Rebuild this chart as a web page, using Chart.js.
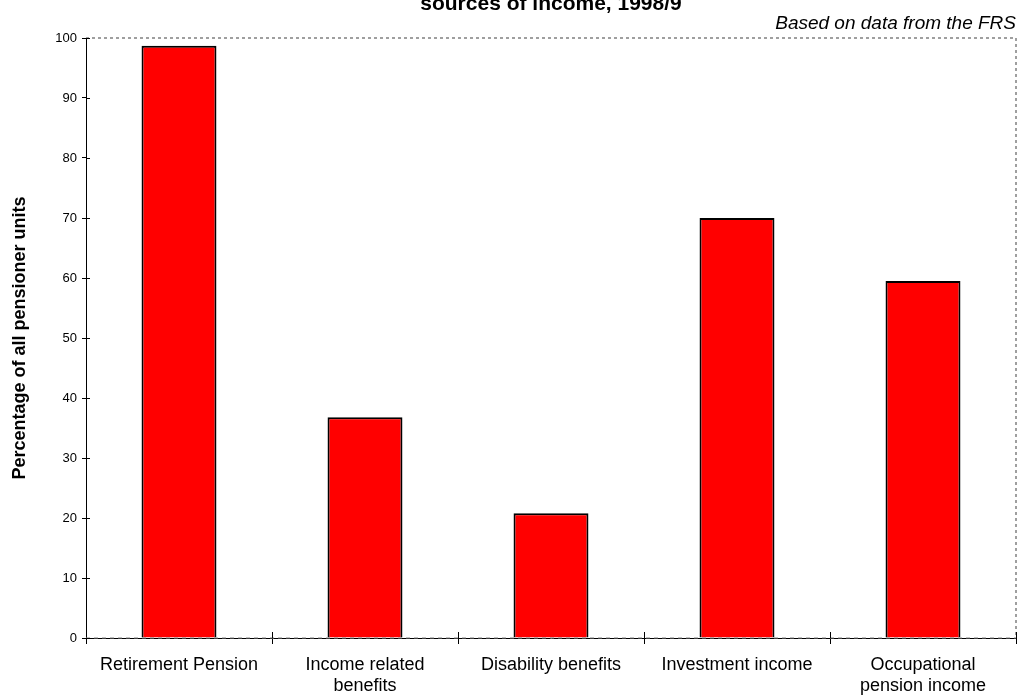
<!DOCTYPE html>
<html>
<head>
<meta charset="utf-8">
<script src="https://cdn.jsdelivr.net/npm/chart.js@4/dist/chart.umd.min.js"></script>
<style>
  body { margin: 0; background: #fff; }
  canvas { display: block; }
</style>
</head>
<body>
<canvas id="myChart" width="1019" height="697"></canvas>
<script>
const categories = [
    'Retirement Pension',
    ['Income related', 'benefits'],
    'Disability benefits',
    'Investment income',
    ['Occupational', 'pension income']
];
const percentages = [98.7, 36.8, 20.8, 70, 59.5];
const titleLine = 'sources of income, 1998/9';
const sourceNote = 'Based on data from the FRS';
const yTitle = 'Percentage of all pensioner units';

// title + note above the plot, the dotted frame round it, and tick marks that cross the axes
const frameAndHeader = {
    id: 'frameAndHeader',
    afterDraw(chart) {
        const {ctx, chartArea: a, scales} = chart;
        ctx.save();
        ctx.strokeStyle = '#808080';
        ctx.lineWidth = 1.5;
        ctx.setLineDash([3, 3]);
        ctx.beginPath();
        ctx.moveTo(a.left, a.top);
        ctx.lineTo(a.right, a.top);
        ctx.lineTo(a.right, a.bottom);
        ctx.stroke();
        ctx.setLineDash([4, 4]);
        ctx.lineWidth = 1;
        ctx.beginPath();
        ctx.moveTo(a.left, a.bottom);
        ctx.lineTo(a.right, a.bottom);
        ctx.stroke();
        ctx.setLineDash([]);

        // inner halves of the tick marks
        ctx.strokeStyle = '#000';
        ctx.lineWidth = 1;
        ctx.beginPath();
        scales.y.ticks.forEach((t, i) => {
            const y = Math.round(scales.y.getPixelForTick(i)) + 0.5;
            ctx.moveTo(a.left, y);
            ctx.lineTo(a.left + 4, y);
        });
        const n = scales.x.ticks.length;
        for (let i = 1; i <= n; i++) {
            const x = Math.round(a.left + (a.right - a.left) * i / n) + 0.5;
            ctx.moveTo(x, a.bottom - 6);
            ctx.lineTo(x, a.bottom);
        }
        ctx.stroke();

        ctx.fillStyle = '#000';
        ctx.textAlign = 'center';
        ctx.textBaseline = 'alphabetic';
        ctx.font = 'bold 21px "Liberation Sans", Arial, sans-serif';
        ctx.fillText(titleLine, (a.left + a.right) / 2, 9.5);
        ctx.textAlign = 'right';
        ctx.font = 'italic 19px "Liberation Sans", Arial, sans-serif';
        ctx.fillText(sourceNote, a.right, 29);
        ctx.restore();
    }
};

const ctx = document.getElementById('myChart');
new Chart(ctx, {
    type: 'bar',
    data: {
        labels: categories,
        datasets: [{
            label: 'Pensioner units',
            data: percentages,
            backgroundColor: '#ff0000',
            borderColor: '#000000',
            borderWidth: 2,
            barPercentage: 0.403,
            categoryPercentage: 1
        }]
    },
    options: {
        responsive: false,
        animation: false,
        devicePixelRatio: 1,
        layout: {
            padding: {top: 38, right: 3, left: 0, bottom: 0}
        },
        plugins: {
            legend: {display: false},
            tooltip: {enabled: false}
        },
        scales: {
            x: {
                afterFit: (scale) => { scale.height = 59; },
                border: {color: '#000', width: 1},
                grid: {
                    drawOnChartArea: false,
                    drawTicks: true,
                    tickLength: 6,
                    color: '#000'
                },
                ticks: {
                    color: '#000',
                    padding: 10,
                    maxRotation: 0,
                    autoSkip: false,
                    font: {family: '"Liberation Sans", Arial, sans-serif', size: 18, lineHeight: 1.2}
                }
            },
            y: {
                min: 0,
                max: 100,
                afterFit: (scale) => { scale.width = 86; },
                border: {color: '#000', width: 1},
                grid: {
                    drawOnChartArea: false,
                    drawTicks: true,
                    tickLength: 4,
                    color: '#000'
                },
                ticks: {
                    stepSize: 10,
                    color: '#000',
                    padding: 5,
                    font: {family: '"Liberation Sans", Arial, sans-serif', size: 13}
                },
                title: {
                    display: true,
                    text: yTitle,
                    color: '#000',
                    padding: {top: 9, bottom: 0},
                    font: {family: '"Liberation Sans", Arial, sans-serif', size: 18, weight: 'bold', lineHeight: 1.2}
                }
            }
        }
    },
    plugins: [frameAndHeader]
});
</script>
</body>
</html>
